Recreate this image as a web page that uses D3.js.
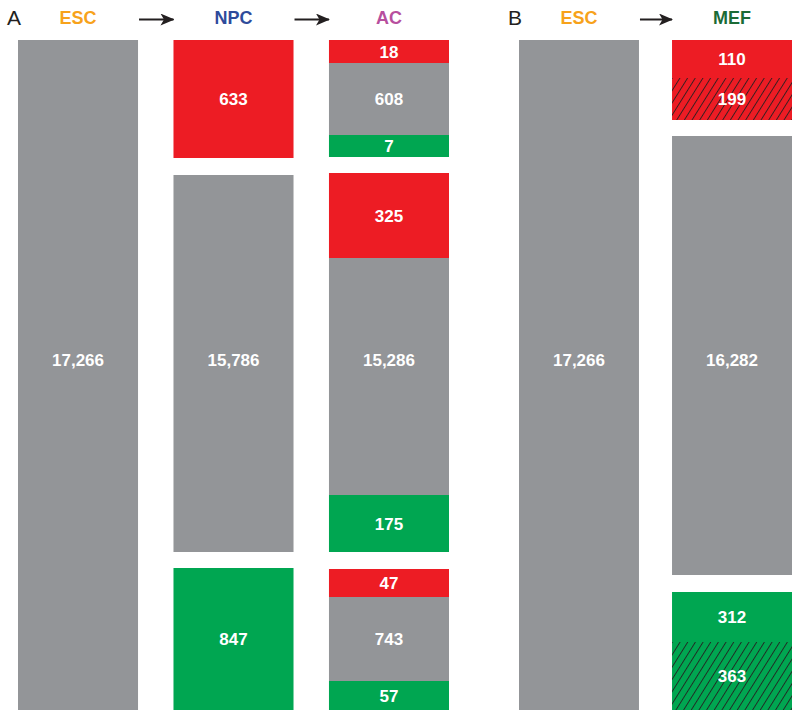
<!DOCTYPE html>
<html>
<head>
<meta charset="utf-8">
<script src="https://cdn.jsdelivr.net/npm/d3@7"></script>
<style>
  html, body { margin: 0; padding: 0; background: #fff; }
  svg { display: block; font-family: "Liberation Sans", Arial, Helvetica, sans-serif; }
</style>
</head>
<body>
<svg id="chart" width="800" height="718"></svg>
<script>
// ---------- DATA ----------
const panelLabels = ["A", "B"];
const stagesA = ["ESC", "NPC", "AC"];
const stagesB = ["ESC", "MEF"];

// value per segment, grouped by block (top block = up, middle = unchanged, bottom = down)
const escAValues = [[17266]];
const npcValues  = [[633], [15786], [847]];
const acValues   = [[18, 608, 7], [325, 15286, 175], [47, 743, 57]];
const escBValues = [[17266]];
const mefValues  = [[110, 199], [16282], [312, 363]];

// status of each segment: up / same / down
const escAKinds = [["same"]];
const npcKinds  = [["up"], ["same"], ["down"]];
const acKinds   = [["up", "same", "down"], ["up", "same", "down"], ["up", "same", "down"]];
const escBKinds = [["same"]];
const mefKinds  = [["up", "up"], ["same"], ["down", "down"]];

// hatched segments
const mefHatched = [[false, true], [false], [false, true]];

// ---------- LAYOUT (drawn sizes, not data) ----------
const layout = {
  escA: { weights: [[670]], gaps: [], bigLabel: true },
  npc:  { weights: [[118], [377], [142]], gaps: [17, 16], bigLabel: true },
  ac:   { weights: [[23, 72, 22], [85, 237, 57], [28, 84, 29]], gaps: [16, 17], bigLabel: true },
  escB: { weights: [[670]], gaps: [], bigLabel: true },
  mef:  { weights: [[38, 42], [439], [50, 68]], gaps: [16, 17], bigLabel: true }
};
const bigLabelUnit = 320; // large unchanged blocks share one label height

const colors = { up: "#ed1c24", same: "#939598", down: "#00a651" };
const stageColors = { ESC: "#f7a21b", NPC: "#2e4b9b", AC: "#b74f9e", MEF: "#1b6b36" };

const fmt = d3.format(",");

const svg = d3.select("#chart");
const defs = svg.append("defs");
defs.append("marker")
  .attr("id", "arrow").attr("viewBox", "0 0 14 12")
  .attr("refX", 13).attr("refY", 6)
  .attr("markerWidth", 14).attr("markerHeight", 12)
  .attr("markerUnits", "userSpaceOnUse")
  .attr("orient", "auto")
  .append("path").attr("d", "M0,0 L14,6 L0,12 L3.5,6 Z").attr("fill", "#231f20");

const pat = defs.append("pattern")
  .attr("id", "hatch").attr("patternUnits", "userSpaceOnUse")
  .attr("width", 6.5).attr("height", 10)
  .attr("patternTransform", "rotate(32)");
pat.append("line").attr("x1", 0.5).attr("y1", 0).attr("x2", 0.5).attr("y2", 10)
  .attr("stroke", "#231f20").attr("stroke-width", 0.9);

// scales
const xA = d3.scaleBand().domain(stagesA).range([18, 449]).paddingInner(0.228).paddingOuter(0);
const xB = d3.scaleBand().domain(stagesB).range([519, 792]).paddingInner(0.216).paddingOuter(0);
const totalUnits = 670;
const y = d3.scaleLinear().domain([0, totalUnits]).range([40, 710]);

const columns = [
  { x: xA, stage: "ESC", values: escAValues, kinds: escAKinds, hatched: null, lay: layout.escA },
  { x: xA, stage: "NPC", values: npcValues, kinds: npcKinds, hatched: null, lay: layout.npc },
  { x: xA, stage: "AC",  values: acValues,  kinds: acKinds,  hatched: null, lay: layout.ac },
  { x: xB, stage: "ESC", values: escBValues, kinds: escBKinds, hatched: null, lay: layout.escB },
  { x: xB, stage: "MEF", values: mefValues, kinds: mefKinds, hatched: mefHatched, lay: layout.mef }
];

columns.forEach(col => {
  const segs = [];
  let pos = 0;
  col.values.forEach((grp, gi) => {
    if (gi > 0) pos += col.lay.gaps[gi - 1];
    grp.forEach((v, si) => {
      const w = col.lay.weights[gi][si];
      const big = w > 200;
      segs.push({ value: v, kind: col.kinds[gi][si],
                  hatched: col.hatched ? col.hatched[gi][si] : false,
                  y0: pos, y1: pos + w,
                  ly: big ? y(bigLabelUnit) : (y(pos) + y(pos + w)) / 2 });
      pos += w;
    });
  });
  const g = svg.append("g");
  const x0 = col.x(col.stage), bw = col.x.bandwidth();
  g.selectAll("rect.seg").data(segs).join("rect")
    .attr("class", "seg")
    .attr("x", x0).attr("width", bw)
    .attr("y", d => y(d.y0)).attr("height", d => y(d.y1) - y(d.y0))
    .attr("fill", d => colors[d.kind]);
  g.selectAll("rect.hatch").data(segs.filter(d => d.hatched)).join("rect")
    .attr("class", "hatch")
    .attr("x", x0).attr("width", bw)
    .attr("y", d => y(d.y0)).attr("height", d => y(d.y1) - y(d.y0))
    .attr("fill", "url(#hatch)");
  g.selectAll("text").data(segs).join("text")
    .attr("x", x0 + bw / 2)
    .attr("y", d => d.ly)
    .attr("dy", "0.36em")
    .attr("text-anchor", "middle")
    .attr("fill", "#fff").attr("font-weight", "bold").attr("font-size", 17)
    .text(d => fmt(d.value));
});

// headers
const headers = [
  { x: xA, stages: stagesA, label: panelLabels[0] },
  { x: xB, stages: stagesB, label: panelLabels[1] }
];
headers.forEach(h => {
  svg.append("text")
    .attr("x", h.x.range()[0] - 11).attr("y", 25)
    .attr("font-size", 21).attr("fill", "#231f20")
    .text(h.label);
  svg.selectAll(null).data(h.stages).join("text")
    .attr("x", d => h.x(d) + h.x.bandwidth() / 2)
    .attr("y", 24)
    .attr("text-anchor", "middle")
    .attr("font-weight", "bold").attr("font-size", 18)
    .attr("fill", d => stageColors[d])
    .text(d => d);
  for (let i = 0; i < h.stages.length - 1; i++) {
    const a = h.x(h.stages[i]) + h.x.bandwidth();
    const b = h.x(h.stages[i + 1]);
    svg.append("line")
      .attr("x1", a + 1).attr("x2", b)
      .attr("y1", 19.5).attr("y2", 19.5)
      .attr("stroke", "#231f20").attr("stroke-width", 2)
      .attr("marker-end", "url(#arrow)");
  }
});
</script>
</body>
</html>
